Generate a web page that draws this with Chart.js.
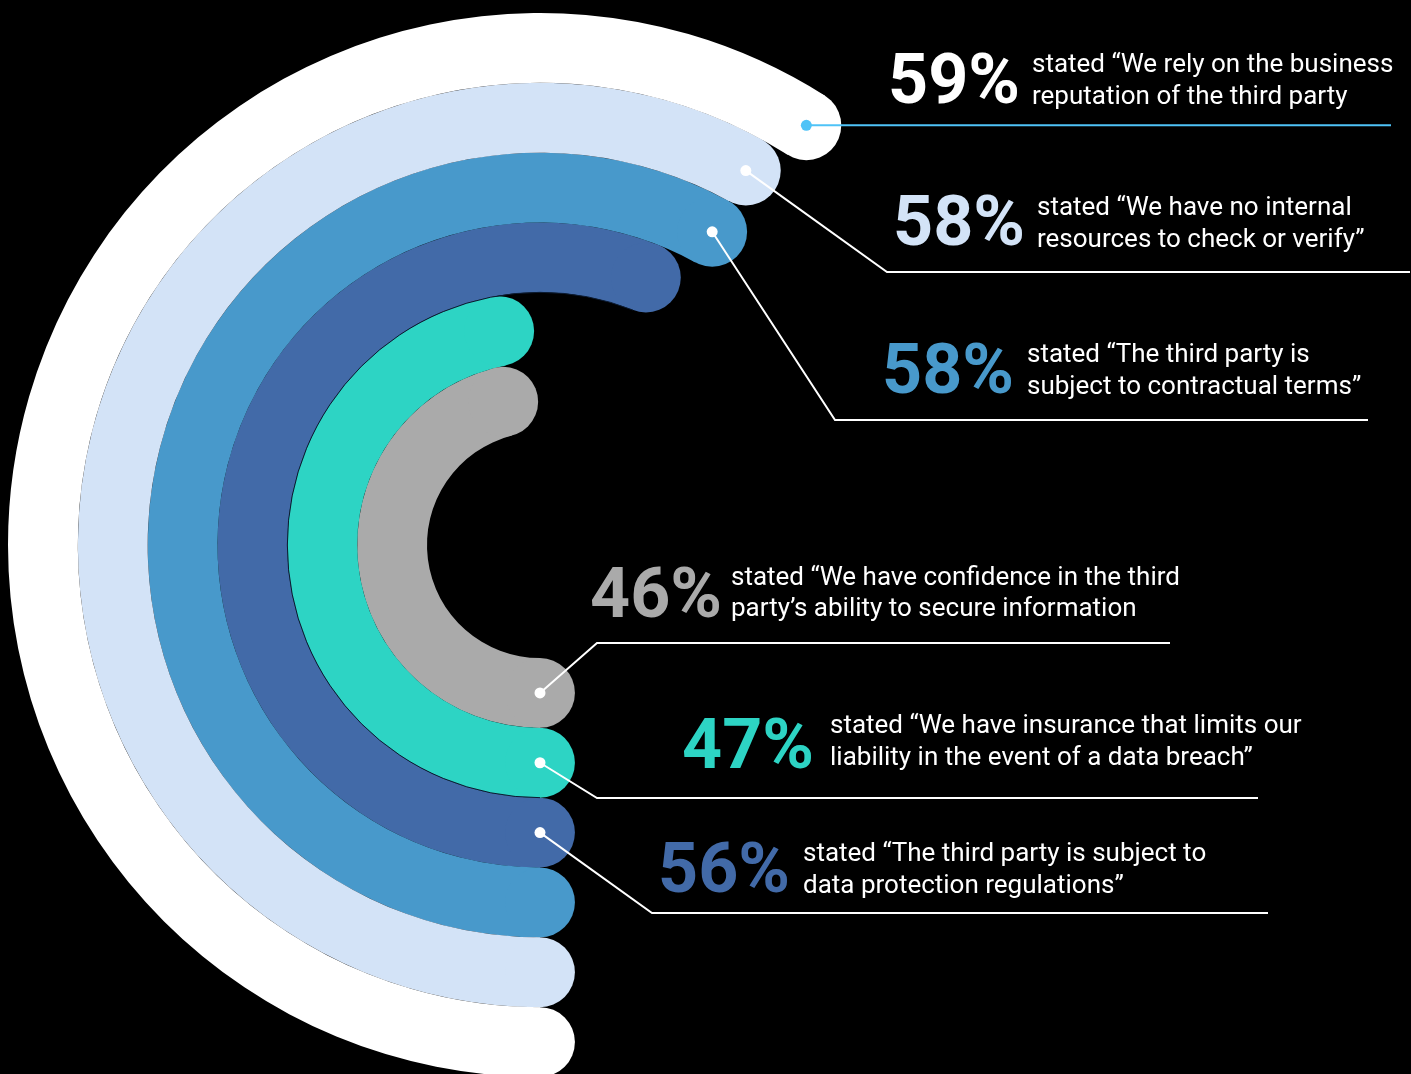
<!DOCTYPE html>
<html>
<head>
<meta charset="utf-8">
<script src="https://cdn.jsdelivr.net/npm/chart.js@4.4.1/dist/chart.umd.min.js"></script>
<style>
  html, body { margin: 0; padding: 0; background: #000; overflow: hidden; }
  #wrap { position: relative; width: 1411px; height: 1080px; }
</style>
</head>
<body>
<div id="wrap"><canvas id="chart"></canvas></div>
<script>
// rings, outermost first
const percents = [59, 58, 58, 56, 47, 46];
const ringColors = ['#ffffff', '#d3e3f7', '#4899cb', '#426aa8', '#2dd4c4', '#aaaaaa'];
const captions = [
  ['stated \u201cWe rely on the business', 'reputation of the third party'],
  ['stated \u201cWe have no internal', 'resources to check or verify\u201d'],
  ['stated \u201cThe third party is', 'subject to contractual terms\u201d'],
  ['stated \u201cThe third party is subject to', 'data protection regulations\u201d'],
  ['stated \u201cWe have insurance that limits our', 'liability in the event of a data breach\u201d'],
  ['stated \u201cWe have confidence in the third', 'party\u2019s ability to secure information']
];

// callout layout: which end of the ring the leader starts from, elbow, line end, text spots
const callouts = [
  { from: 'end',   elbow: null,       lineEnd: 1391, line: '#4fc3f7', pct: [888, 103], cap: [1032, 72, 104] },
  { from: 'end',   elbow: [887, 272], lineEnd: 1410, line: '#ffffff', pct: [893, 245], cap: [1037, 215, 247] },
  { from: 'end',   elbow: [835, 420], lineEnd: 1368, line: '#ffffff', pct: [882, 393], cap: [1027, 362, 394] },
  { from: 'start', elbow: [652, 913], lineEnd: 1268, line: '#ffffff', pct: [658, 892], cap: [803, 861, 893] },
  { from: 'start', elbow: [597, 798], lineEnd: 1258, line: '#ffffff', pct: [682, 768], cap: [830, 733, 765] },
  { from: 'start', elbow: [597, 643], lineEnd: 1170, line: '#ffffff', pct: [590, 617], cap: [731, 585, 616] }
];

function ringPoint(arc, angle) {
  const r = (arc.innerRadius + arc.outerRadius) / 2;
  return [arc.x + r * Math.cos(angle), arc.y + r * Math.sin(angle)];
}

// round caps on both ends of each ring
const roundCaps = {
  id: 'roundCaps',
  afterDatasetsDraw(chart) {
    const ctx = chart.ctx;
    chart.data.datasets.forEach((ds, i) => {
      const arc = chart.getDatasetMeta(i).data[0];
      const w = (arc.outerRadius - arc.innerRadius) / 2;
      ctx.save();
      ctx.fillStyle = ringColors[i];
      [arc.startAngle, arc.endAngle].forEach(a => {
        const [px, py] = ringPoint(arc, a);
        ctx.beginPath();
        ctx.arc(px, py, w, 0, Math.PI * 2);
        ctx.fill();
      });
      ctx.restore();
    });
    // hairline along the inner edge of the dark blue ring
    const dark = chart.getDatasetMeta(3).data[0];
    ctx.save();
    ctx.strokeStyle = '#0b1a30';
    ctx.lineWidth = 1;
    ctx.beginPath();
    ctx.arc(dark.x, dark.y, dark.innerRadius, dark.startAngle, dark.endAngle);
    ctx.stroke();
    ctx.restore();
  }
};

// leader lines, dots and the text next to each ring
const callLabels = {
  id: 'callLabels',
  afterDraw(chart) {
    const ctx = chart.ctx;
    callouts.forEach((c, i) => {
      const arc = chart.getDatasetMeta(i).data[0];
      const [dx, dy] = ringPoint(arc, c.from === 'end' ? arc.endAngle : arc.startAngle);
      ctx.save();
      ctx.strokeStyle = c.line;
      ctx.fillStyle = c.line;
      ctx.lineWidth = 2;
      ctx.beginPath();
      ctx.moveTo(dx, dy);
      if (c.elbow) {
        ctx.lineTo(c.elbow[0], c.elbow[1]);
        ctx.lineTo(c.lineEnd, c.elbow[1]);
      } else {
        ctx.lineTo(c.lineEnd, dy);
      }
      ctx.stroke();
      ctx.beginPath();
      ctx.arc(dx, dy, 5.5, 0, Math.PI * 2);
      ctx.fill();

      ctx.textBaseline = 'alphabetic';
      ctx.textAlign = 'left';
      ctx.fillStyle = ringColors[i];
      ctx.font = 'bold 70px Roboto';
      ctx.fillText(percents[i] + '%', c.pct[0], c.pct[1]);
      ctx.fillStyle = '#ffffff';
      ctx.font = '26px Roboto';
      ctx.fillText(captions[i][0], c.cap[0], c.cap[1]);
      ctx.fillText(captions[i][1], c.cap[0], c.cap[2]);
      ctx.restore();
    });
  }
};

const chart = new Chart(document.getElementById('chart'), {
  type: 'doughnut',
  data: {
    labels: ['agree', 'rest'],
    datasets: percents.map((p, i) => ({
      data: [p, 100 - p],
      backgroundColor: [ringColors[i], 'rgba(0,0,0,0)'],
      borderWidth: 0,
      hoverOffset: 0
    }))
  },
  options: {
    responsive: true,
    maintainAspectRatio: false,
    animation: false,
    rotation: 180,
    circumference: 360,
    cutout: 113,
    layout: { padding: { left: 8, right: 339, top: 13, bottom: 3 } },
    events: [],
    plugins: {
      legend: { display: false },
      tooltip: { enabled: false }
    }
  },
  plugins: [roundCaps, callLabels]
});
</script>
</body>
</html>
